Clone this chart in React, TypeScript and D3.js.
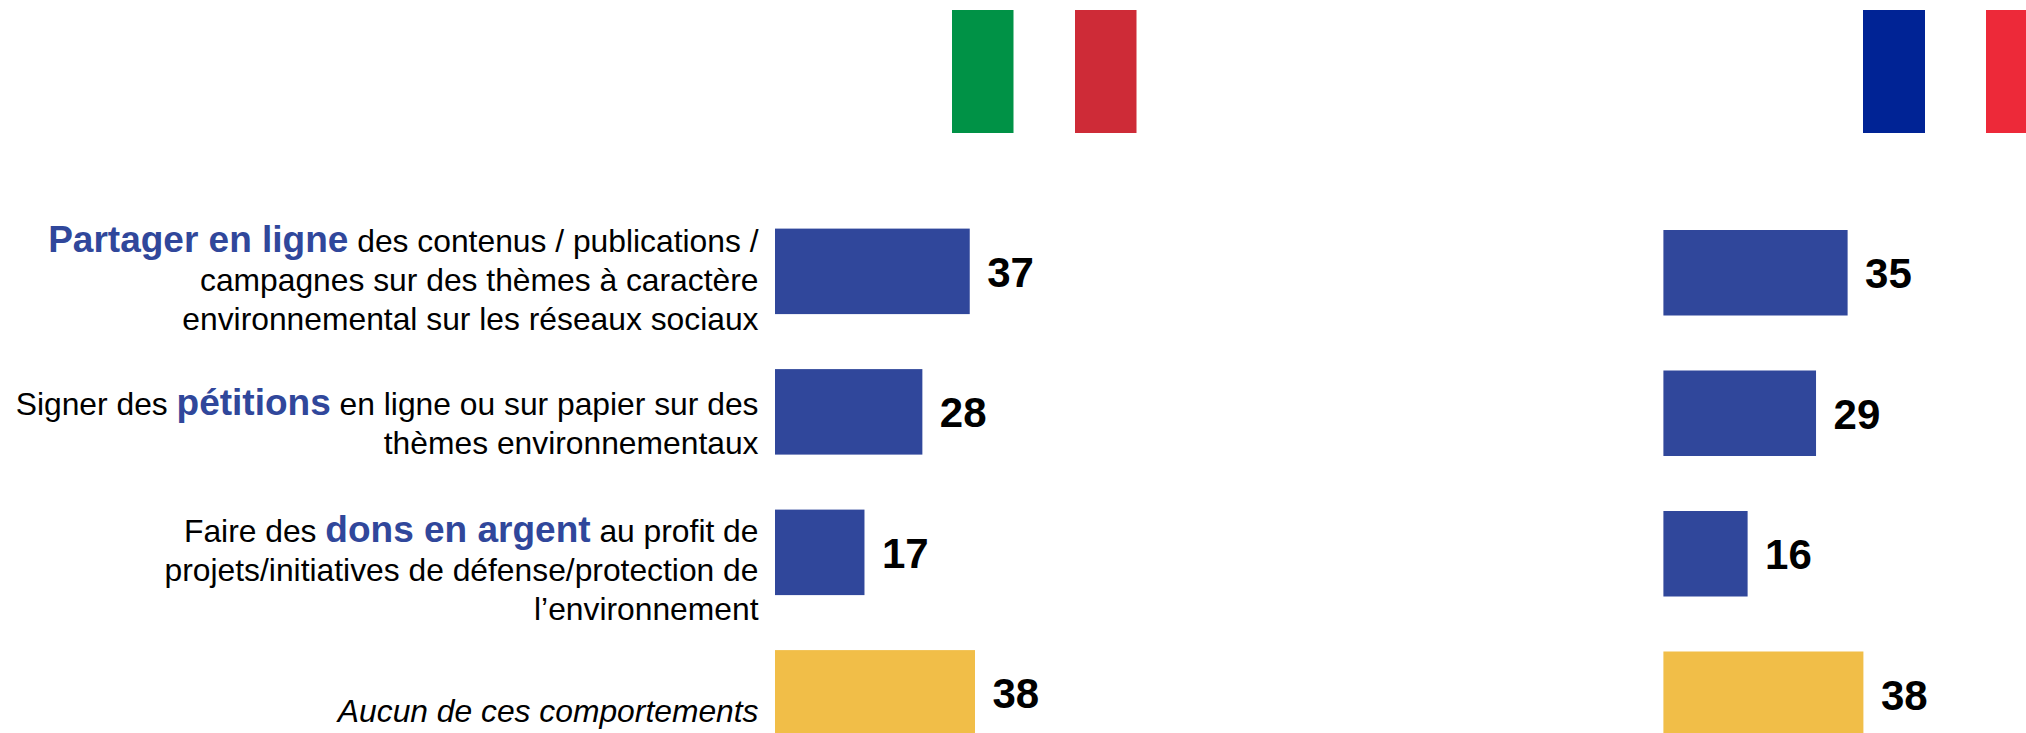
import React from "react";
import * as d3 from "d3";

const categories = ["share", "petitions", "dons", "aucun"];
const italyValues = [37, 28, 17, 38];
const franceValues = [35, 29, 16, 38];
const barColors = ["#30479B", "#30479B", "#30479B", "#F1BE48"];

type Seg = { t: string; hl?: boolean; it?: boolean };
const labelShare: Seg[][] = [
  [{ t: "Partager en ligne", hl: true }, { t: " des contenus / publications /" }],
  [{ t: "campagnes sur des thèmes à caractère" }],
  [{ t: "environnemental sur les réseaux sociaux" }],
];
const labelPetitions: Seg[][] = [
  [{ t: "Signer des " }, { t: "pétitions", hl: true }, { t: " en ligne ou sur papier sur des" }],
  [{ t: "thèmes environnementaux" }],
];
const labelDons: Seg[][] = [
  [{ t: "Faire des " }, { t: "dons en argent", hl: true }, { t: " au profit de" }],
  [{ t: "projets/initiatives de défense/protection de" }],
  [{ t: "l’environnement" }],
];
const labelAucun: Seg[][] = [[{ t: "Aucun de ces comportements", it: true }]];
const labels = [labelShare, labelPetitions, labelDons, labelAucun];

const FONT = "'Liberation Sans', Arial, sans-serif";
const W = 2026;
const H = 733;
const STEP = 140.5;
const BAR_H = 85.5;
const LINE_H = 39.4;
const FIRST_BASELINE = [251.5, 415, 541.5, 722];

const xLen = d3.scaleLinear().domain([0, 38]).range([0, 200]);
const yBand = d3
  .scaleBand<string>()
  .domain(categories)
  .range([0, STEP * 3 + BAR_H])
  .paddingInner(1 - BAR_H / STEP)
  .paddingOuter(0);

function Panel({ x0, y0, values }: { x0: number; y0: number; values: number[] }) {
  return (
    <g>
      {categories.map((c, i) => (
        <g key={c}>
          <rect x={x0} y={y0 + yBand(c)!} width={xLen(values[i])} height={yBand.bandwidth()} fill={barColors[i]} />
          <text
            x={x0 + xLen(values[i]) + 17.5}
            y={y0 + yBand(c)! + yBand.bandwidth() / 2 + 15.5}
            fontFamily={FONT}
            fontWeight="bold"
            fontSize={42}
            fill="#000"
          >
            {values[i]}
          </text>
        </g>
      ))}
    </g>
  );
}

export default function App() {
  return (
    <svg width={W} height={H} viewBox={`0 0 ${W} ${H}`} style={{ position: "absolute", left: 0, top: 0, display: "block", background: "#fff" }}>
      <rect x={952} y={10} width={61.5} height={123} fill="#009246" />
      <rect x={1075} y={10} width={61.5} height={123} fill="#CE2B37" />
      <rect x={1863} y={10} width={62} height={123} fill="#002395" />
      <rect x={1986} y={10} width={62} height={123} fill="#ED2939" />
      <Panel x0={775} y0={228.6} values={italyValues} />
      <Panel x0={1663.4} y0={230} values={franceValues} />
      {categories.map((c, i) => {
        const lines = labels[i];
        return (
          <text key={c} textAnchor="end" fontFamily={FONT} fontSize={31.8} fill="#000">
            {lines.map((segs, j) => (
              <tspan key={j} x={758.5} y={FIRST_BASELINE[i] + j * LINE_H}>
                {segs.map((s, k) => (
                  <tspan
                    key={k}
                    fill={s.hl ? "#30479B" : "#000"}
                    fontWeight={s.hl ? "bold" : "normal"}
                    fontStyle={s.it ? "italic" : "normal"}
                    fontSize={s.hl ? 37 : 31.8}
                  >
                    {s.t}
                  </tspan>
                ))}
              </tspan>
            ))}
          </text>
        );
      })}
    </svg>
  );
}
